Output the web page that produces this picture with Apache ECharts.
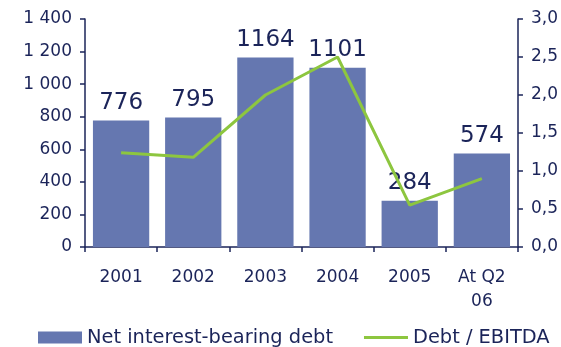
<!DOCTYPE html>
<html>
<head>
<meta charset="utf-8">
<script src="https://cdn.jsdelivr.net/npm/echarts@6/dist/echarts.min.js"></script>
<style>
  html, body { margin: 0; padding: 0; background: #ffffff; }
  #chart { width: 561px; height: 347px; }
</style>
</head>
<body>
<div id="chart"></div>
<script>
// Net interest-bearing debt (bars, left axis) and Debt / EBITDA ratio (line, right axis)
const categories = ['2001', '2002', '2003', '2004', '2005', 'At Q2\n06'];
const netDebt = [776, 795, 1164, 1101, 284, 574];
const debtToEbitda = [1.24, 1.18, 2.0, 2.5, 0.55, 0.9];

const NAVY = '#1b2459';
const BAR = '#6577b0';
const GREEN = '#8dc63f';
const FONT = 'DejaVu Sans';

const chart = echarts.init(document.getElementById('chart'), null, { renderer: 'canvas' });

chart.setOption({
  animation: false,
  textStyle: { fontFamily: FONT, color: NAVY },
  grid: { left: 85, right: 42, top: 19, bottom: 100, containLabel: false },
  legend: {
    top: 328,
    left: 38,
    padding: 0,
    itemGap: 31,
    itemWidth: 44,
    itemHeight: 12,
    textStyle: { fontFamily: FONT, fontSize: 19.4, color: NAVY },
    data: [
      { name: 'Net interest-bearing debt', icon: 'rect' },
      { name: 'Debt / EBITDA', icon: 'path://M0,0H44V3H0Z' }
    ]
  },
  xAxis: {
    type: 'category',
    data: categories,
    axisLine: { lineStyle: { color: NAVY, width: 1.5 } },
    axisTick: { show: true, alignWithLabel: false, length: 5, lineStyle: { color: NAVY, width: 1.5 } },
    axisLabel: { color: NAVY, fontSize: 17, fontFamily: FONT, margin: 19, lineHeight: 24 }
  },
  yAxis: [
    {
      type: 'value',
      min: 0,
      max: 1400,
      interval: 200,
      splitLine: { show: false },
      axisLine: { show: true, lineStyle: { color: NAVY, width: 1.5 } },
      axisTick: { show: true, length: 5, lineStyle: { color: NAVY, width: 1.5 } },
      axisLabel: {
        color: NAVY, fontSize: 17, fontFamily: FONT, margin: 13,
        formatter: v => String(v).replace(/\B(?=(\d{3})+(?!\d))/g, ' ')
      }
    },
    {
      type: 'value',
      min: 0,
      max: 3,
      interval: 0.5,
      splitLine: { show: false },
      axisLine: { show: true, lineStyle: { color: NAVY, width: 1.5 } },
      axisTick: { show: true, length: 5, lineStyle: { color: NAVY, width: 1.5 } },
      axisLabel: {
        color: NAVY, fontSize: 17, fontFamily: FONT, margin: 13,
        formatter: v => v.toFixed(1).replace('.', ',')
      }
    }
  ],
  series: [
    {
      name: 'Net interest-bearing debt',
      type: 'bar',
      yAxisIndex: 0,
      data: netDebt,
      barCategoryGap: '22%',
      itemStyle: { color: BAR },
      label: {
        show: true,
        position: 'top',
        distance: 6,
        color: NAVY,
        fontSize: 23,
        fontFamily: FONT
      },
      z: 2
    },
    {
      name: 'Debt / EBITDA',
      type: 'line',
      yAxisIndex: 1,
      data: debtToEbitda,
      symbol: 'none',
      lineStyle: { color: GREEN, width: 3 },
      itemStyle: { color: GREEN },
      z: 3
    }
  ]
});
</script>
</body>
</html>
